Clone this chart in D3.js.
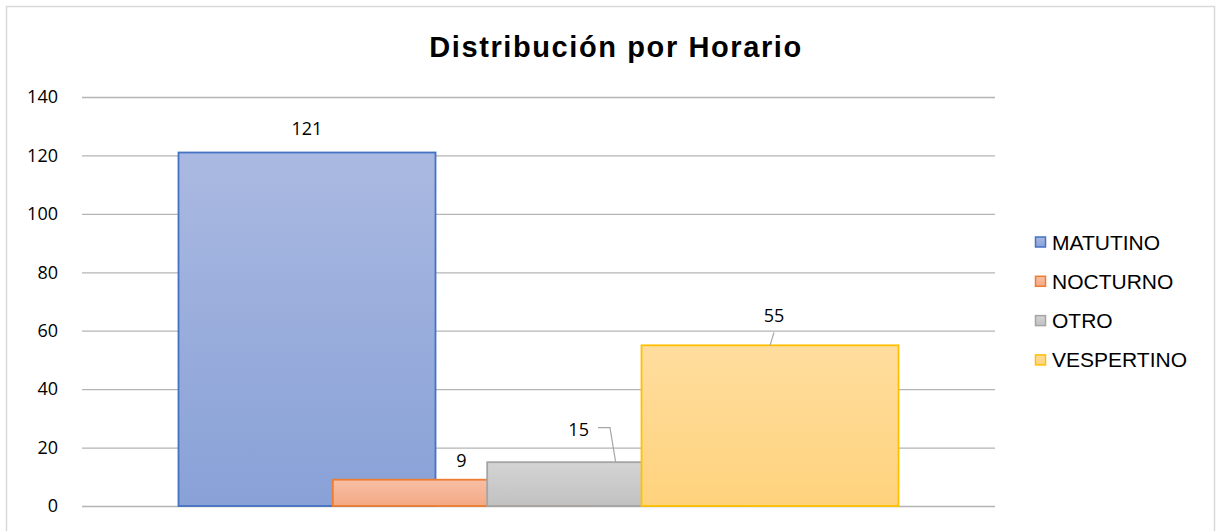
<!DOCTYPE html>
<html>
<head>
<meta charset="utf-8">
<script src="https://cdn.jsdelivr.net/npm/d3@7"></script>
<style>
  body { margin: 0; background: #fff; }
  #chart text { fill: #000; }
</style>
</head>
<body>
<div id="chart"></div>
<script>
// data
var category = ["Horario"];
var series = ["MATUTINO", "NOCTURNO", "OTRO", "VESPERTINO"];
var values = [121, 9, 15, 55];
var yTicks = [0, 20, 40, 60, 80, 100, 120, 140];

var width = 1217, height = 531;
var plotL = 82, plotR = 995, plotT = 97, plotB = 506;

// excel-ish colours: stroke, gradient top, gradient bottom
var strokes = ["#4472C4", "#ED7D31", "#A5A5A5", "#FFC000"];
var topCol = ["#aab9e1", "#f7bfa5", "#d4d4d4", "#ffdd9e"];
var botCol = ["#88a1d7", "#f4a984", "#c1c1c1", "#ffd37d"];

var svg = d3.select("#chart").append("svg")
    .attr("width", width)
    .attr("height", height);

var defs = svg.append("defs");
series.forEach(function(s, i) {
  var g = defs.append("linearGradient")
      .attr("id", "grad" + i)
      .attr("x1", 0).attr("y1", 0).attr("x2", 0).attr("y2", 1);
  g.append("stop").attr("offset", "0%").attr("stop-color", topCol[i]);
  g.append("stop").attr("offset", "100%").attr("stop-color", botCol[i]);
});

// outer frame
svg.append("rect")
    .attr("x", 6.5).attr("y", 6.5)
    .attr("width", 1208).attr("height", 540)
    .attr("fill", "none")
    .attr("stroke", "#d9d9d9")
    .attr("stroke-width", 1.5);

svg.append("text")
    .attr("x", 616).attr("y", 57)
    .attr("text-anchor", "middle")
    .style("font-family", "'Liberation Sans', Arial, sans-serif")
    .style("font-weight", "bold")
    .style("font-size", "29px")
    .style("letter-spacing", "1.6px")
    .text("Distribución por Horario");

var y = d3.scaleLinear().domain([0, 140]).range([plotB, plotT]);

var x0 = d3.scaleBand()
    .domain(category)
    .range([plotL, plotR])
    .paddingOuter(0.134);

// bars overlap: each is offset by a fraction of its width
var groupW = x0.bandwidth();
var barW = groupW * 257 / 720;
var xs = d3.scaleLinear()
    .domain([0, series.length - 1])
    .range([x0(category[0]), x0(category[0]) + groupW - barW]);

// gridlines + tick labels
var axis = svg.append("g")
    .attr("transform", "translate(" + plotR + ",0)")
    .call(d3.axisLeft(y).tickValues(yTicks).tickSize(plotR - plotL).tickPadding(24));
axis.select(".domain").remove();
axis.selectAll("line").attr("stroke", "#b4b4b4").attr("stroke-width", 1.3);
axis.selectAll("text")
    .style("font-family", "'Open Sans', sans-serif")
    .style("font-size", "18px")
    .attr("fill", "#000");

var data = series.map(function(s, i) { return { name: s, value: values[i], i: i }; });

svg.selectAll("rect.bar")
    .data(data)
    .enter()
    .append("rect")
    .attr("class", "bar")
    .attr("x", function(d) { return xs(d.i); })
    .attr("y", function(d) { return y(d.value); })
    .attr("width", barW)
    .attr("height", function(d) { return y(0) - y(d.value); })
    .attr("fill", function(d) { return "url(#grad" + d.i + ")"; })
    .attr("stroke", function(d) { return strokes[d.i]; })
    .attr("stroke-width", 1.8);

// label nudges (dx from bar centre, baseline dy from bar top)
var nudge = [[0, -18], [0, -12.5], [-37, -26], [4, -23]];

var labels = svg.selectAll("text.lbl")
    .data(data)
    .enter()
    .append("text")
    .attr("class", "lbl")
    .attr("x", function(d) { return xs(d.i) + barW / 2 + nudge[d.i][0]; })
    .attr("y", function(d) { return y(d.value) + nudge[d.i][1]; })
    .attr("text-anchor", "middle")
    .style("font-family", "'Open Sans', sans-serif")
    .style("font-size", "18px")
    .text(function(d) { return d.value; });

// leader lines for moved labels
labels.each(function(d) {
  var dx = nudge[d.i][0];
  if (dx === 0) return;
  var bb = this.getBBox();
  var ax = xs(d.i) + barW / 2, ay = y(d.value);
  var pts;
  if (Math.abs(dx) > bb.width / 2 + 4) {
    var sx = bb.x + bb.width + 9, sy = y(d.value) + nudge[d.i][1] - 8.5;
    pts = [[sx, sy], [sx + 12, sy], [ax, ay]];
  } else {
    pts = [[bb.x + bb.width / 2, y(d.value) + nudge[d.i][1] + 10], [ax, ay]];
  }
  svg.append("polyline")
      .attr("points", pts.join(" "))
      .attr("fill", "none")
      .attr("stroke", "#a6a6a6")
      .attr("stroke-width", 1.2);
});

// legend
var legend = svg.selectAll("g.leg")
    .data(data)
    .enter()
    .append("g")
    .attr("class", "leg")
    .attr("transform", function(d) { return "translate(1035," + (242 + d.i * 39.3) + ")"; });

legend.append("rect")
    .attr("x", 0.5).attr("y", -5)
    .attr("width", 10).attr("height", 10)
    .attr("fill", function(d) { return "url(#grad" + d.i + ")"; })
    .attr("stroke", function(d) { return strokes[d.i]; })
    .attr("stroke-width", 1.5);

legend.append("text")
    .attr("x", 17).attr("y", 7.5)
    .style("font-family", "'Liberation Sans', Arial, sans-serif")
    .style("font-size", "21px")
    .text(function(d) { return d.name; });
</script>
</body>
</html>
